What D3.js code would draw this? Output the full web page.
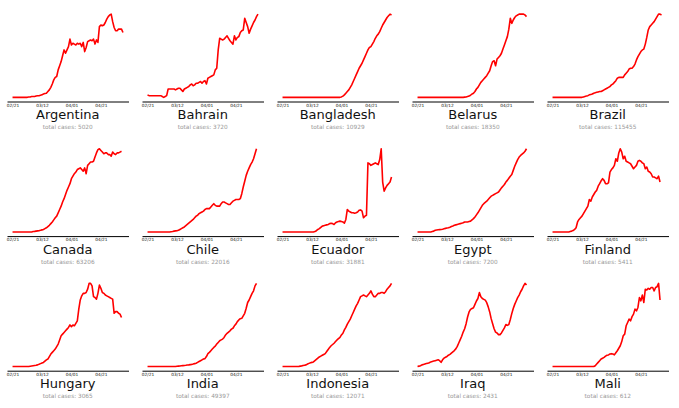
<!DOCTYPE html>
<html>
<head>
<meta charset="utf-8">
<script src="https://cdn.jsdelivr.net/npm/d3@7"></script>
<style>
  body { margin: 0; background: #fff; }
  svg { display: block; font-family: "DejaVu Sans", sans-serif; }
</style>
</head>
<body>
<svg id="chart" width="679" height="408"></svg>
<script>
// one value per day, starting 2020-02-21 (scaled, the chart shows no y labels)
const countries = ["Argentina", "Bahrain", "Bangladesh", "Belarus", "Brazil",
                   "Canada", "Chile", "Ecuador", "Egypt", "Finland",
                   "Hungary", "India", "Indonesia", "Iraq", "Mali"];
const totalCases = [5020, 3720, 10929, 18350, 115455, 63206, 22016, 31881, 7200, 5411, 3065, 49397, 12071, 2431, 612];
const tickLabels = ["02/21", "03/12", "04/01", "04/21"];

const argentina = [0,0,0,0,0,0,0,0,0,0, 0,0.5,0.5,1,1,1,1.5,2,2,2.5, 3,4,4.5,5,7,9,12,16,21,24,
  25,33,38,43,50,57,53,57,61,70, 63,65,64,63,65,64,65,61,66,55, 60,67,68,69,68,70,64,69,66,85,
  87,86,87,90,94,97,99,100,91,84, 80,80,82,82,82,78];
const bahrain = [3,2,2,2,2,2,2,2,2,2, 1,0,1,2,10,10,10,10,10,9, 10,11,11,9,7,10,11,12,13,15,
  16,14,15,17,17,18,19,17,19,20, 16,23,24,25,26,27,33,35,57,71, 70,69,70,72,74,71,68,66,64,74,
  69,72,73,78,80,81,95,90,85,77, 82,86,90,93,97,100];
const bangladesh = [0,0,0,0,0,0,0,0,0,0, 0,0,0,0,0,0,0,0,0,0, 0,0,0,0,0,0,0,0,0,0,
  0,0,0,0,0,0,0,0,0,0, 0.5,1.5,3,5,7,9,12,15,19,23, 27,31,35,38,41,45,49,53,57,60,
  61,64,67,71,74,76,79,83,87,90, 93,96,98,100,99];
const belarus = [0,0,0,0,0,0,0,0,0,0, 0,0,0,0,0,0,0,0,0,0, 0,0,0,0,0,0,0,0,0,0,
  0,0,0.3,0.5,1,1.5,2.5,4,5,7, 10,12,15,18,20,22,24,26,29,32, 38,43,44,38,46,48,50,53,58,63,
  68,73,82,95,89,93,96,98,99,100, 100,100,100,99,97];
const brazil = [0,0,0,0,0,0,0,0,0,0, 0,0,0,0,0,0,0,0,0,0, 0,0.5,1,1.5,2,3,3.5,4,5,5.5,
  6,6.5,7,7,8,9,10,11,12,13, 15,16,18,20,23,24,24,24,24,27, 29,31,34,35,35,37,40,45,49,52,
  55,57,58,64,72,81,85,87,89,91, 94,97,100,100,99];
const canada = [0,0,0,0,0,0,0,0,0,0, 0,0,0,0,0.5,0.7,1,1.3,1.6,2, 2.5,3,4,5,6.5,8,10,12,14.5,17,
  19,23,27,31,36,40,45,50,54,58, 64,67,70,72,75,76,77,75,73,77, 70,80,82,84,84,85,90,95,99,100,
  98,96,94,95,95,93,93,91,96,94, 93,95,95,96,97];
const chile = [0,0,0,0,0,0,0,0,0,0, 0,0,0,0,0,0,0.3,0.6,1,1.3, 1.6,2,3,4,5,6,7.5,9,10.5,12,
  13.5,15,17,19,20,22,23,24,25,27, 28,28,28,30,32,34,32,31,31,31, 34,36,36,35,34,33,33,35,37,38,
  39,39,39,40,46,54,61,68,73,77, 81,84,88,94,100];
const ecuador = [0,0,0,0,0,0,0,0,0,0, 0,0,0,0,0,0,0,0,0,0, 0,0,0.5,1.5,3,4,5.5,7,7.5,8,
  8.5,9,10,10.5,10,9,11,12,12.5,13, 12.5,12,10.5,15,27,25,24,23,23,22.5, 23,24,26,26.5,25,17,19,20,83,82,
  80,81,82,83,82,81,87,100,60,49, 53,56,58,60,66];
const egypt = [0,0,0,0,0,0,0,0,0,0, 0.5,1,2,2.3,2.6,2.8,3,3.3,3.8,4.3, 4.7,5,5.7,6.5,7.2,8,8.5,9,9.5,10,
  10.5,11,12,12,12,12.5,13,14.5,16,18, 20.5,23,26,29,32,34,35.5,37,39,41, 43,44,45,46,47,48,50.5,53,55,57,
  60,62,64.5,67,69,74,79,83,87,90, 92,93.5,95,97,100];
const finland = [0,0,0,0,0,0,0,0,0,0, 0,0,0.5,1,1.6,3,5,12,15,17, 19,22,25,28,31,39,37,42,45,48,
  50,55,58,61.5,64,62,58,58,59,72, 75,77,80,88,85,95,100,96,88,91, 85,84,83,82,79,76,78,80,85,86,
  85,83,82,76,78,73,72,70,66,66, 65,64,67,60];
const hungary = [0,0,0,0,0,0,0,0,0,0, 0,0,0.3,0.6,0.9,1.2,1.5,2,2.7,3.5, 4.3,5,6.5,8,9,12,15,17,19,21,
  24,27,32,37,39,41,43,45,47,50, 48,50,49,52,55,69,80,85,88,88, 89,93,100,100,97,84,83,81,88,98,
  94,89,88,86,85,84,83,82,81,64, 66,66,64,63,59];
const india = [0,0,0,0,0,0,0,0,0,0, 0,0,0,0,0,0,0,0,0,0, 0.3,0.5,0.7,0.9,1.1,1.3,1.5,1.8,2,2.3,
  2.6,3,3.5,4,5,6,7,8,9,9.5, 12,15.5,17,19,21,23,24.5,27,29,31, 32,33,35,38,40,41.5,43,45,46,49,
  51,54,56,57.5,58,61,64,70,77,80, 84,88,91,97,100];
const indonesia = [0,0,0,0,0,0,0,0,0,0, 0,0,0.5,0.8,1.2,1.6,2,3,3.8,4.5, 5,5.5,7,8.5,10,11.5,12.5,13.5,14.5,15.5,
  18,20.5,23,25,26.5,28,30,32,33.5,35, 38,40,44,47,51,54,57,61,65,69, 73,76,80,84,85,86,85,84,86,88,
  91,87,84,84,86,88,88,89,89,88, 90,93,95,97,100];
const iraq = [1,1.5,2,3,3.5,4,4.5,5,5.5,6.5, 7,7.5,8,8.5,9,8,6,9,11,12, 13,14.5,15.5,17,18.5,20,22,25,29,33,
  37,42,46,52,60,66,69,70,71,75, 79,82,89,84,82,81,80,77,72,66, 58,52,46,42,41,39,39,41,44,47,
  51,50,51,57,64,70,75,79,83,86, 90,93,97,100,98];
const mali = [0,0,0,0,0,0,0,0,0,0, 0,0,0,0,0,0,0,0,0,0, 0,0,0,0,0,0,0,0,0,1,
  3,5,7,9,10,11,12.5,13.5,14,15, 15.5,15,14,16.5,19,22,25,30,37,39, 49,53,57,55,60,63,69,67,71,83,
  79,86,77,93,92,94,93,95,95,91, 95,96,100,80];

const series = [argentina, bahrain, bangladesh, belarus, brazil,
                canada, chile, ecuador, egypt, finland,
                hungary, india, indonesia, iraq, mali];

const colW = 135, rowH = 134.6;
const axLeft = 7, axTop = 10, axWidth = 121.5, axHeight = 91.5;

const parseTick = d3.utcParse("%Y/%m/%d");
const t0 = parseTick("2020/02/21");
const t1 = d3.utcDay.offset(t0, 75);
const xPad = (t1 - t0) * 0.05;

const x = d3.scaleUtc()
  .domain([new Date(+t0 - xPad), new Date(+t1 + xPad)])
  .range([0, axWidth]);

const tickDates = tickLabels.map(s => parseTick("2020/" + s));

const svg = d3.select("#chart");

countries.forEach((name, i) => {
  const col = i % 5, row = Math.floor(i / 5);
  const values = series[i];

  const lo = d3.min(values), hi = d3.max(values);
  const yPad = (hi - lo) * 0.05;
  const y = d3.scaleLinear()
    .domain([lo - yPad, hi + yPad])
    .range([axHeight, 0]);

  const g = svg.append("g")
    .attr("transform", `translate(${col * colW + axLeft},${row * rowH + axTop})`);

  const line = d3.line()
    .x((d, k) => x(d3.utcDay.offset(t0, k)))
    .y(d => y(d));

  g.append("path")
    .datum(values)
    .attr("fill", "none")
    .attr("stroke", "#ff0000")
    .attr("stroke-width", 1.6)
    .attr("stroke-linejoin", "round")
    .attr("d", line);

  const ax = g.append("g")
    .attr("transform", `translate(0,${axHeight})`)
    .call(d3.axisBottom(x)
      .tickValues(tickDates)
      .tickFormat(d3.utcFormat("%m/%d"))
      .tickSize(0)
      .tickPadding(2));
  ax.select(".domain").attr("stroke", "#000").attr("stroke-width", 1);
  ax.selectAll("text")
    .attr("fill", "#111")
    .style("font-size", "4.3px")
    .style("font-family", "'DejaVu Sans', sans-serif");

  g.append("text")
    .attr("x", axWidth / 2)
    .attr("y", 109.3)
    .attr("text-anchor", "middle")
    .attr("fill", "#111")
    .style("font-size", "13px")
    .text(name);

  g.append("text")
    .attr("x", axWidth / 2)
    .attr("y", 119.3)
    .attr("text-anchor", "middle")
    .attr("fill", "#999")
    .style("font-size", "5.8px")
    .text("total cases: " + totalCases[i]);
});
</script>
</body>
</html>
